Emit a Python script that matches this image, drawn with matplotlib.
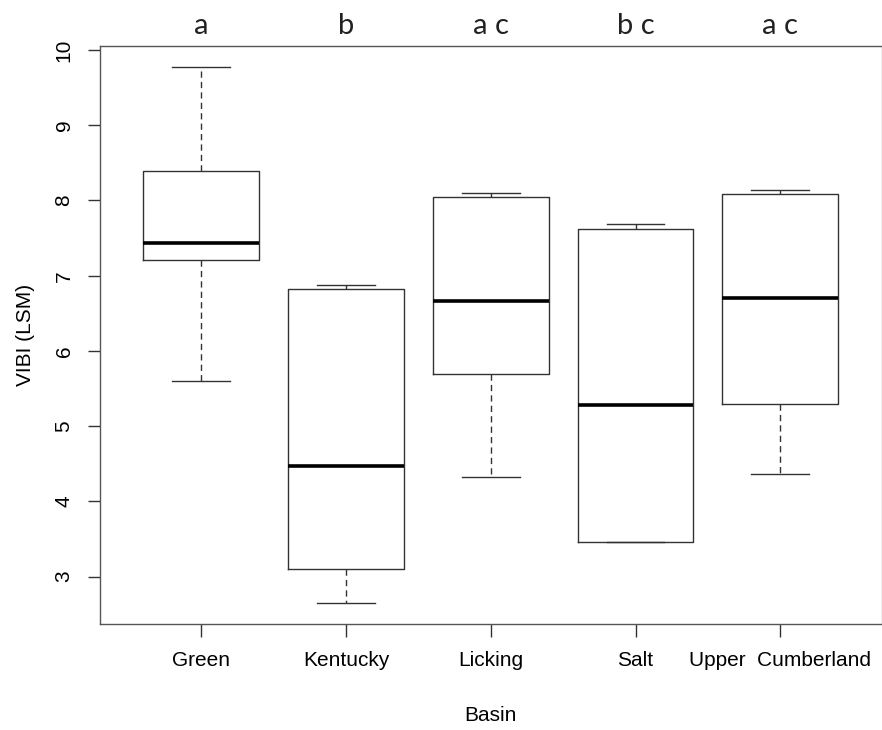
"""
VIBI (LSM) 按流域分组的箱线图（R 风格）
"""

import matplotlib
matplotlib.use("Agg")
import matplotlib.pyplot as plt

# ==============================================================================
# 数据
# ==============================================================================
BASINS = ["Green", "Kentucky", "Licking", "Salt", "Upper  Cumberland"]
LETTERS = ["a", "b", "a c", "b c", "a c"]

WHISK_LO = [5.60, 2.65, 4.32, 3.46, 4.36]
Q1 = [7.21, 3.10, 5.70, 3.46, 5.29]
MEDIAN = [7.43, 4.47, 6.66, 5.28, 6.70]
Q3 = [8.39, 6.82, 8.04, 7.62, 8.08]
WHISK_HI = [9.77, 6.88, 8.10, 7.69, 8.14]

Y_TICKS = [3, 4, 5, 6, 7, 8, 9, 10]

# ==============================================================================
# 样式参数
# ==============================================================================
FIG_W, FIG_H, DPI = 8.82, 7.30, 100
AX_RECT = [100 / 882, 105.7 / 730, 781.6 / 882, 578.6 / 730]
FONT = ["Liberation Sans", "DejaVu Sans"]
LETTER_FONT = ["Lato", "DejaVu Sans"]
LINE_COLOR = "#333333"


def main():
    plt.rcParams["font.family"] = FONT
    fig = plt.figure(figsize=(FIG_W, FIG_H), dpi=DPI)
    ax = fig.add_axes(AX_RECT)

    stats = []
    for i in range(len(BASINS)):
        stats.append({
            "whislo": WHISK_LO[i], "q1": Q1[i], "med": MEDIAN[i],
            "q3": Q3[i], "whishi": WHISK_HI[i], "fliers": [],
            "label": BASINS[i],
        })

    positions = list(range(1, len(BASINS) + 1))
    ax.bxp(
        stats, positions=positions, widths=0.8, showfliers=False,
        boxprops=dict(color=LINE_COLOR, lw=1.0),
        medianprops=dict(color="black", lw=2.6, solid_capstyle="butt"),
        whiskerprops=dict(color=LINE_COLOR, lw=1.0, linestyle=(0, (4.5, 3))),
        capprops=dict(color=LINE_COLOR, lw=1.0),
        capwidths=0.4,
    )

    ax.set_xlim(0.3, 5.7)
    ax.set_ylim(2.367, 10.057)
    ax.set_yticks(Y_TICKS)
    ax.set_yticklabels([str(t) for t in Y_TICKS], rotation=90, va="center")

    ax.tick_params(axis="both", direction="out", length=9, width=1.0,
                   color=LINE_COLOR, labelsize=15, pad=10)
    for side, sp in ax.spines.items():
        sp.set_linewidth(1.0)
        sp.set_color("#555555" if side != "right" else "#aaaaaa")

    ax.set_xlabel("Basin", fontsize=15, labelpad=26)
    ax.set_ylabel("VIBI (LSM)", fontsize=15, labelpad=14)

    # 顶部显著性字母
    for x, txt in zip(positions, LETTERS):
        ax.text(x, 10.057 + 0.26, txt, ha="center", va="center",
                fontsize=21, family=LETTER_FONT, color="#222222",
                clip_on=False)

    fig.savefig("out.png", dpi=DPI)
    plt.close(fig)


if __name__ == "__main__":
    main()
